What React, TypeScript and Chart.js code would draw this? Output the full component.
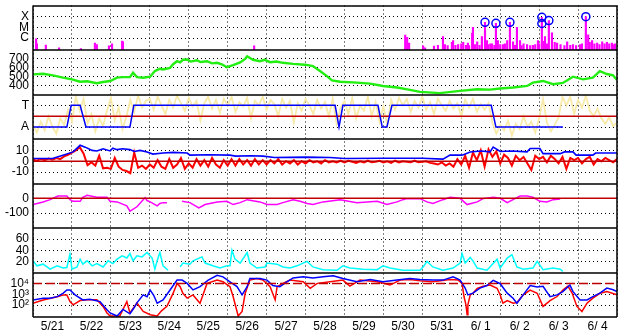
import React, { useEffect, useRef } from 'react';
import { Chart, registerables } from 'chart.js';

Chart.register(...registerables);

const FONT = 'Liberation Sans';

const dayLabels = ['5/21', '5/22', '5/23', '5/24', '5/25', '5/26', '5/27', '5/28', '5/29', '5/30', '5/31', '6/ 1', '6/ 2', '6/ 3', '6/ 4'];

// ---- X-ray flux (W/m2) ----
const xrayTimes = [0.08, 0.1, 0.33, 0.67, 1.23, 1.59, 1.64, 1.95, 2.03, 2.29, 2.31, 5.68, 9.56, 9.61, 9.66, 10.02, 10.07, 10.3, 10.4, 10.53, 10.58, 10.65, 10.76, 10.79, 10.85, 10.92, 11.0, 11.05, 11.12, 11.17, 11.2, 11.28, 11.3, 11.35, 11.41, 11.47, 11.53, 11.61, 11.66, 11.7, 11.75, 11.79, 11.85, 11.89, 11.94, 12.0, 12.07, 12.12, 12.18, 12.25, 12.33, 12.38, 12.43, 12.51, 12.55, 12.6, 12.69, 12.77, 12.84, 12.9, 12.97, 13.0, 13.07, 13.12, 13.15, 13.2, 13.25, 13.33, 13.4, 13.46, 13.55, 13.65, 13.72, 13.8, 13.87, 13.95, 14.05, 14.1, 14.2, 14.26, 14.3, 14.36, 14.42, 14.49, 14.55, 14.62, 14.68, 14.74, 14.8, 14.87, 14.92, 14.95];
const xrayFlux = [8.7e-7, 3e-7, 2.3e-7, 1.3e-7, 1.1e-7, 3.5e-7, 2.5e-7, 1.9e-7, 3e-7, 5.2e-7, 4.5e-7, 1.9e-7, 1.9e-6, 1.2e-6, 3.5e-7, 1.9e-7, 1.3e-7, 1.8e-7, 2.2e-7, 1.4e-6, 2.5e-7, 2e-7, 4e-7, 6e-7, 2.2e-7, 2.5e-7, 3e-7, 4e-7, 2.2e-7, 3.5e-7, 2e-7, 2.8e-6, 1e-5, 2.5e-7, 4.5e-7, 2.2e-7, 1.4e-6, 2.8e-5, 6e-7, 2.5e-7, 3e-7, 3e-7, 2.2e-7, 2.3e-5, 6e-7, 2.5e-7, 2.5e-7, 3e-7, 6e-7, 2.8e-5, 4.5e-7, 2.2e-7, 1e-5, 6e-7, 2e-7, 3e-7, 2.5e-7, 2e-7, 2.2e-7, 2.5e-7, 6e-7, 3e-7, 8e-5, 5e-7, 1.4e-6, 3e-7, 4e-5, 3e-6, 4e-7, 3.5e-7, 2.5e-7, 2e-7, 4.5e-7, 2.2e-7, 2.5e-7, 2e-7, 2.5e-7, 3e-7, 9.5e-5, 2e-6, 4e-7, 6e-7, 3e-7, 3.5e-7, 2.5e-7, 4.5e-7, 3e-7, 4e-7, 3e-7, 3.5e-7, 2.5e-7, 3e-7];
const flareTimes = [11.61, 11.89, 12.25, 13.07, 13.07, 13.25, 14.2];
const flareFlux = [2.85e-5, 2.3e-5, 2.85e-5, 8.1e-5, 2.2e-5, 4.1e-5, 9.4e-5];

// ---- Solar wind speed (km/s) ----
const speedTimes = [0, 0.26, 0.51, 0.77, 1.0, 1.21, 1.39, 1.64, 1.8, 1.98, 2.16, 2.31, 2.49, 2.57, 2.67, 2.83, 3.01, 3.13, 3.26, 3.34, 3.52, 3.6, 3.7, 3.78, 3.85, 3.96, 4.05, 4.21, 4.3, 4.47, 4.6, 4.73, 4.85, 4.98, 5.14, 5.32, 5.45, 5.5, 5.65, 5.83, 5.95, 6.09, 6.25, 6.42, 6.68, 6.99, 7.19, 7.37, 7.55, 7.68, 7.89, 8.32, 8.66, 8.99, 9.35, 9.68, 9.94, 10.45, 10.97, 11.41, 11.74, 12.0, 12.33, 12.69, 12.84, 13.1, 13.36, 13.61, 13.87, 14.13, 14.38, 14.56, 14.74, 14.9, 15.0];
const speedValues = [526, 533, 515, 489, 470, 444, 448, 426, 440, 452, 489, 495, 495, 544, 495, 489, 500, 563, 589, 581, 600, 640, 674, 660, 690, 693, 670, 685, 665, 674, 650, 656, 640, 607, 630, 660, 700, 730, 690, 674, 690, 663, 670, 656, 644, 635, 619, 563, 507, 459, 444, 433, 422, 396, 378, 352, 330, 315, 341, 359, 355, 367, 378, 396, 433, 452, 415, 430, 500, 470, 489, 563, 530, 515, 463];

// ---- IMF sector (A = 0, T = 2) ----
const sectorTimes = [0, 0.87, 0.98, 1.21, 1.36, 2.49, 2.59, 7.76, 7.86, 7.96, 8.86, 8.97, 9.09, 9.22, 11.77, 11.89, 13.61];
const sectorValues = [0, 0, 2, 2, 0, 0, 2, 2, 0, 2, 2, 0, 0, 2, 2, 0, 0];
const sectorRef = 1;
const phiStep = 0.1;
const phiValues = [0.2, -0.5, 0.5, -0.3, 1.0, 0.0, -0.6, 0.8, 0.2, 1.6, 0.5, 2.8, 1.5, 2.6, 0.3, 1.2, -0.4, 0.8, 0.1, 1.5, 2.7, 0.6, 1.8, -0.2, 1.0, 2.5, 1.4, 2.9, 1.8, 2.4, 2.6, 1.6, 2.8, 2.0, 1.2, 2.5, 1.8, 2.9, 2.2, 1.5, 2.7, 1.9, 2.4, 0.6, 2.2, 2.8, 1.7, 2.5, 1.3, 2.6, 2.0, 2.8, 1.4, 2.3, 1.9, 2.7, 0.8, 2.4, 2.0, 2.8, 1.6, 2.5, 2.1, 1.0, 2.6, 1.8, 2.4, 0.4, 2.2, 1.5, 2.6, 2.0, 1.2, 2.5, 1.7, 2.3, 1.0, 2.6, 0.3, 1.8, 2.4, 1.2, 2.7, 0.8, 2.0, 1.5, 2.8, 1.0, 2.3, 0.5, 1.9, 0.2, 2.5, 1.6, 2.7, 2.0, 2.6, 1.4, 2.4, 1.8, 2.8, 1.6, 2.3, 1.2, 2.6, 2.0, 1.5, 2.4, 1.7, 2.2, 1.0, 2.5, 1.8, 2.6, 1.4, 2.1, 1.6, 2.2, 0.4, -0.6, 0.2, -0.3, 0.6, -0.8, 0.3, -0.2, 1.0, 0.0, 0.5, -0.5, 0.8, 2.6, 0.4, -0.4, 0.2, 0.9, 2.8, 2.0, 2.8, 1.2, 2.5, 1.8, 2.9, 1.5, 1.0, 1.7, 0.8, 0.3, 0.9, 0.1, 0.4];

// ---- IMF Bt / Bz (nT) ----
const btTimes = [0, 0.5, 0.77, 1.03, 1.21, 1.34, 1.52, 1.64, 1.8, 1.98, 2.05, 2.16, 2.3, 2.49, 2.6, 2.75, 2.93, 3.08, 3.34, 3.6, 3.96, 4.03, 4.5, 5.06, 5.2, 5.6, 5.91, 6.2, 7.0, 7.63, 8.0, 9.0, 10.0, 10.53, 10.71, 11.02, 11.23, 11.5, 11.74, 11.82, 12.0, 12.3, 12.69, 12.77, 13.02, 13.1, 13.54, 13.65, 13.87, 13.95, 14.38, 14.45, 15.0];
const btValues = [2.5, 2.5, 5.6, 8.6, 14.7, 13, 10, 9.5, 11.5, 9.5, 12, 10.7, 11.5, 10.7, 9, 10, 8.6, 6.6, 7.6, 8.2, 7.6, 5.6, 6, 5.6, 4.7, 5, 4.7, 3.5, 3.8, 3.5, 2.5, 2.8, 2.8, 2.0, 5.6, 5.6, 8.6, 9.5, 8.6, 13, 9, 9.5, 8.6, 11.7, 11.7, 7, 7, 8.6, 8.6, 5.6, 5.6, 7.6, 7.6];
const bzStep = 0.1;
const bzValues = [1.5, 0.5, 2, 1, 2.5, 1.5, 3, 2, 4.5, 6, 8, 10, 13, 7, -3.5, -1, -4, 5, -6.5, -6, -7, 3, -5, -8, -9, -11, 8, -6, -4, -7, -3, -6, 1, -5, -7, 2, -6, -3, 3, -7, -2, -6, 2, -4, 1, -5, 3, -3, -6, 1, -4, 2, -4, 2, -3, 1, -4, 2, -3, 1, -3, 1, -2, 2, -3, 0, -2, 1, -3, 0, -2, 1, -1, 0, -2, 1, -1, 0, -1, 0.5, -1, 0.5, -0.5, -1.5, 0, -1, 0.5, -1, -0.5, 0.5, -1, 0, -1.5, 0.5, -1, 0, -0.5, -1, 0.5, -1, -0.5, 0, -1.5, -2, -3, -1, -4, -2, -5, 2, -3, 5, -6, 8, 1, 10, -5, 11, 4, 9, -2, 6, 3, -4, 5, 1, 4, -2, -8, 5, 2, 4, -1, 5, 2, -2, 4, -7, 3, 1, 3, -2, 2, 4, -3, 2, 0, 3, 1, -1, 2];
const bzRef = 0;

// ---- Dst (nT) ----
const dstTimes = [0, 0.26, 0.44, 0.64, 0.87, 0.95, 1.03, 1.21, 1.28, 1.39, 1.64, 1.9, 1.98, 2.16, 2.41, 2.49, 2.67, 2.83, 2.88, 2.93, 3.01, 3.19, 3.26, 3.34, 3.44, 3.6, 3.83, 4.03, 4.26, 4.42, 4.73, 4.98, 5.14, 5.32, 5.5, 5.83, 6.01, 6.27, 6.42, 6.68, 6.86, 7.04, 7.19, 7.45, 7.89, 8.32, 8.84, 9.09, 9.35, 9.5, 9.6, 9.94, 10.12, 10.27, 10.53, 10.71, 10.97, 11.15, 11.41, 11.56, 11.82, 12.0, 12.18, 12.33, 12.51, 12.69, 12.84, 13.02, 13.2, 13.36, 13.54];
const dstValues = [-42, -25, -9, 15, 15, -9, -20, -20, 7, 20, 7, 7, -20, -24, -51, -86, -57, -9, 5, -15, -24, -51, -35, -29, -29, null, -20, -29, -64, -42, -24, -20, -42, -29, -9, -24, -42, -42, -29, -9, -20, -35, -42, -24, -9, -29, -20, -42, -24, -9, -2, -2, -24, -35, -9, 7, 0, -42, -24, -2, 7, 0, -29, -9, 15, 15, 7, -20, -24, -9, -5];
const dstRef = 0;

// ---- Cyan panel ----
const cyanTimes = [0, 0.1, 0.26, 0.44, 0.62, 0.77, 0.87, 0.95, 1.0, 1.13, 1.21, 1.28, 1.39, 1.52, 1.64, 1.8, 1.93, 2.05, 2.16, 2.29, 2.41, 2.49, 2.57, 2.67, 2.8, 2.93, 3.06, 3.13, 3.21, 3.26, 3.34, 3.47, 3.6, 3.78, 3.85, 4.03, 4.11, 4.34, 4.42, 4.62, 4.8, 4.98, 5.06, 5.11, 5.19, 5.32, 5.5, 5.57, 5.75, 5.96, 6.01, 6.27, 6.42, 6.6, 6.78, 7.04, 7.19, 7.45, 7.81, 7.96, 8.14, 8.48, 8.84, 8.99, 9.17, 9.5, 9.94, 10.02, 10.12, 10.27, 10.53, 10.79, 10.97, 11.02, 11.1, 11.23, 11.3, 11.41, 11.66, 11.92, 12.0, 12.18, 12.3, 12.43, 12.59, 12.84, 12.95, 13.1, 13.36, 13.54, 13.61];
const cyanValues = [21, 12, 15, 6, 12, 8, 9, 33, 6, 10, 24, 15, 21, 12, 16, 10, 21, 16, 24, 30, 26, 34, 21, 30, 28, 36, 26, 6, 26, 36, 12, 4, null, 10, 17, 15, 21, 28, 17, 12, 8, 12, 12, 40, 24, 17, 36, 17, 8, 10, 17, 15, 10, 8, 12, 20, 10, 5, 4, 12, 8, 6, 5, 12, 8, 4, 4, 10, 20, 10, 4, 8, 17, 34, 17, 27, 21, 8, 4, 24, 8, 26, 32, 10, 6, 8, 20, 5, 8, 6, 2];

// ---- Electron flux ----
const eBlueTimes = [0, 0.26, 0.44, 0.62, 0.77, 0.87, 0.95, 1.08, 1.28, 1.46, 1.72, 1.9, 1.98, 2.16, 2.31, 2.49, 2.6, 2.67, 2.83, 2.93, 3.01, 3.1, 3.19, 3.34, 3.52, 3.7, 3.83, 3.96, 4.11, 4.29, 4.5, 4.73, 4.88, 5.06, 5.24, 5.37, 5.5, 5.57, 5.83, 6.01, 6.16, 6.34, 6.52, 6.68, 6.94, 7.19, 7.45, 7.71, 7.96, 8.32, 8.66, 8.99, 9.35, 9.68, 9.94, 10.27, 10.53, 10.79, 10.97, 11.1, 11.17, 11.3, 11.48, 11.66, 11.82, 12.0, 12.18, 12.33, 12.43, 12.59, 12.77, 12.95, 13.1, 13.28, 13.46, 13.61, 13.79, 13.87, 14.05, 14.23, 14.38, 14.56, 14.74, 14.9, 15.0];
const eBlueFlux = [300, 430, 430, 600, 1230, 2450, 2450, 870, 300, 350, 210, 37, 19, 10, 40, 16, 60, 160, 870, 600, 2450, 800, 150, 300, 2450, 20000, 20000, 10000, 2500, 5000, 20000, 56000, 40000, 14000, 5000, 870, 5000, 28000, 28000, 20000, 6300, 5000, 14000, 32000, 40000, 32000, 40000, 49000, 28000, 14000, 23000, 14000, 20000, 28000, 23000, 20000, 20000, 40000, 20000, 3700, 870, 1260, 3700, 6300, 18600, 9300, 1260, 430, 150, 870, 6300, 4700, 5400, 600, 870, 1740, 7000, 1740, 300, 300, 600, 1260, 3700, 2600, 1740];
const eRedTimes = [0, 0.26, 0.62, 0.77, 0.87, 0.95, 1.03, 1.21, 1.39, 1.64, 1.8, 1.9, 1.98, 2.23, 2.41, 2.49, 2.67, 2.83, 3.01, 3.19, 3.3, 3.44, 3.6, 3.7, 3.78, 3.85, 3.96, 4.11, 4.29, 4.47, 4.73, 4.88, 5.06, 5.14, 5.24, 5.27, 5.37, 5.45, 5.57, 5.75, 5.91, 6.09, 6.22, 6.27, 6.42, 6.6, 6.94, 7.12, 7.3, 7.63, 7.96, 8.14, 8.4, 8.84, 9.17, 9.43, 9.68, 9.94, 10.27, 10.71, 10.92, 11.02, 11.07, 11.12, 11.15, 11.17, 11.23, 11.3, 11.41, 11.56, 11.74, 11.92, 12.0, 12.07, 12.18, 12.33, 12.43, 12.59, 12.77, 12.95, 13.1, 13.28, 13.46, 13.61, 13.74, 13.85, 13.97, 14.1, 14.23, 14.38, 14.56, 14.74, 15.0];
const eRedFlux = [151, 300, 600, 870, 870, 214, 107, 263, 316, 316, 76, 19, 10, 10, 214, 19, 158, 26, 13, 10, 30, 79, 1260, 10000, 5000, 1230, 437, 870, 151, 10000, 20000, 14000, 5000, 617, 26, 10, 26, 1230, 20000, 28000, 20000, 5000, 302, 5000, 10000, 20000, 14000, 3550, 10000, 14000, 20000, 5600, 20000, 14000, 7000, 20000, 23000, 17400, 14000, 23000, 20000, 10000, 617, 107, 13, 107, 870, 1230, 3550, 5600, 7000, 3550, 870, 151, 263, 151, 174, 870, 2450, 1230, 76, 263, 617, 2450, 5600, 1230, 76, 26, 151, 437, 1230, 1740, 870];
const eRef = 10000;

// ---- axis ticks ----
const xrayTicks = [1e-6, 1e-5, 1e-4];
const xrayTickLabels = ['C', 'M', 'X'];
const speedTicks = [400, 500, 600, 700];
const sectorTicks = [0, 2];
const sectorTickLabels = ['A', 'T'];
const bzTicks = [-10, 0, 10];
const dstTicks = [-100, 0];
const cyanTicks = [20, 40, 60];
const eTicks = [100, 1000, 10000];
const eTickLabels = ['10²', '10³', '10⁴'];

const pairs = (t: number[], v: (number | null)[]) => t.map((x, i) => ({ x, y: v[i] }));
const stepped = (step: number, v: number[]) => v.map((y, i) => ({ x: i * step, y }));
const flat = (y: number) => [{ x: 0, y }, { x: dayLabels.length, y }];

const framePlugin = {
  id: 'panelFrame',
  afterDraw(chart: any) {
    const { ctx, chartArea } = chart;
    ctx.save();
    ctx.strokeStyle = '#000';
    ctx.lineWidth = 1.5;
    ctx.setLineDash([]);
    const ys = new Set<number>();
    Object.values(chart.scales).forEach((s: any) => {
      if (s.axis === 'y') {
        ys.add(Math.round(s.top));
        ys.add(Math.round(s.bottom));
      }
    });
    ctx.beginPath();
    ys.forEach((y) => {
      ctx.moveTo(chartArea.left, y);
      ctx.lineTo(chartArea.right, y);
    });
    ctx.moveTo(Math.round(chartArea.left), chartArea.top);
    ctx.lineTo(Math.round(chartArea.left), chartArea.bottom);
    ctx.moveTo(Math.round(chartArea.right), chartArea.top);
    ctx.lineTo(Math.round(chartArea.right), chartArea.bottom);
    ctx.stroke();
    ctx.restore();
  },
};

function yAxis(extra: any, tickVals: number[], labels?: string[]) {
  return {
    stack: 'panels',
    stackWeight: 1,
    position: 'left',
    offset: false,
    grid: { color: '#000', lineWidth: 1, drawTicks: false },
    border: { display: false, dash: [1, 3] },
    ticks: {
      autoSkip: false,
      padding: 4,
      color: '#000',
      font: { family: FONT, size: 12 },
      callback: (v: number) => {
        const i = tickVals.findIndex((t) => Math.abs(t - v) <= Math.abs(t) * 1e-6 + 1e-12);
        if (i < 0) return '';
        return labels ? labels[i] : String(tickVals[i]);
      },
    },
    afterBuildTicks: (s: any) => {
      s.ticks = tickVals.map((value) => ({ value }));
    },
    afterFit: (s: any) => {
      s.width = 33;
      s.paddingTop = 0;
      s.paddingBottom = 0;
    },
    ...extra,
  };
}

export default function App() {
  const ref = useRef<HTMLCanvasElement | null>(null);

  useEffect(() => {
    if (!ref.current) return;
    const line = (data: any, axis: string, color: string, width = 1.5, extra: any = {}) => ({
      type: 'line',
      data,
      yAxisID: axis,
      borderColor: color,
      borderWidth: width,
      pointRadius: 0,
      tension: 0,
      fill: false,
      spanGaps: false,
      ...extra,
    });
    const chart = new Chart(ref.current, {
      type: 'line',
      data: {
        datasets: [
          // X-ray
          {
            type: 'line',
            data: pairs(flareTimes, flareFlux),
            yAxisID: 'yX',
            showLine: false,
            pointRadius: 4,
            pointBorderColor: '#0000ff',
            pointBackgroundColor: 'rgba(0,0,0,0)',
            pointBorderWidth: 1.5,
          },
          {
            type: 'bar',
            data: pairs(xrayTimes, xrayFlux),
            yAxisID: 'yX',
            backgroundColor: '#ff00ff',
            borderWidth: 0,
            barThickness: 1.5,
            grouped: false,
            base: 8e-8,
          },
          // speed
          line(pairs(speedTimes, speedValues), 'yV', '#22ee11', 2.4),
          // sector
          line(pairs(sectorTimes, sectorValues), 'yS', '#0000ff', 1.5),
          line(flat(sectorRef), 'yS', '#c00000', 1.5),
          line(stepped(phiStep, phiValues), 'yS', '#f8eaa8', 1.8),
          // Bz
          line(pairs(btTimes, btValues), 'yB', '#0000ff', 1.6),
          line(flat(bzRef), 'yB', '#c00000', 1.5),
          line(stepped(bzStep, bzValues), 'yB', '#ff0000', 2),
          // Dst
          line(flat(dstRef), 'yD', '#c00000', 1.5),
          line(pairs(dstTimes, dstValues), 'yD', '#ff00ff', 1.5),
          // cyan
          line(pairs(cyanTimes, cyanValues), 'yN', '#00ffff', 1.5),
          // electrons
          line(flat(eRef), 'yE', '#c00000', 1.5, { borderDash: [9, 4] }),
          line(pairs(eBlueTimes, eBlueFlux), 'yE', '#0000ff', 1.5),
          line(pairs(eRedTimes, eRedFlux), 'yE', '#ff0000', 1.5),
        ] as any,
      },
      options: {
        responsive: false,
        animation: false,
        devicePixelRatio: 1,
        events: [],
        layout: { padding: { top: 2, right: 11, left: 0, bottom: 0 } },
        plugins: { legend: { display: false }, tooltip: { enabled: false } },
        scales: {
          x: {
            type: 'linear',
            min: 0,
            max: dayLabels.length,
            offset: false,
            grid: { color: '#000', lineWidth: 1, drawTicks: false, offset: false },
            border: { display: false, dash: [1, 3] },
            ticks: {
              autoSkip: false,
              maxRotation: 0,
              minRotation: 0,
              padding: 2,
              labelOffset: 19.5,
              color: '#000',
              font: { family: FONT, size: 12 },
              callback: (v: number) => dayLabels[v] ?? '',
            },
            afterBuildTicks: (s: any) => {
              s.ticks = Array.from({ length: dayLabels.length + 1 }, (_, i) => ({ value: i }));
            },
            afterFit: (s: any) => {
              s.height = 17;
              s.paddingLeft = 0;
              s.paddingRight = 0;
            },
          },
          yE: yAxis({ type: 'logarithmic', min: 8.1, max: 1e5 }, eTicks, eTickLabels),
          yN: yAxis({ type: 'linear', min: 0, max: 80 }, cyanTicks),
          yD: yAxis({ type: 'linear', min: -200, max: 100 }, dstTicks),
          yB: yAxis({ type: 'linear', min: -20.5, max: 20.5 }, bzTicks),
          yS: yAxis({ type: 'linear', min: -1.1, max: 3 }, sectorTicks, sectorTickLabels),
          yV: yAxis({ type: 'linear', min: 300, max: 800 }, speedTicks),
          yX: yAxis({ type: 'logarithmic', min: 8e-8, max: 1e-3 }, xrayTicks, xrayTickLabels),
        } as any,
      },
      plugins: [framePlugin],
    });
    return () => chart.destroy();
  }, []);

  return (
    <div style={{ position: 'absolute', left: 0, top: 0, width: 628, height: 334, background: '#fff' }}>
      <canvas ref={ref} width={628} height={334} style={{ display: 'block' }} />
    </div>
  );
}
